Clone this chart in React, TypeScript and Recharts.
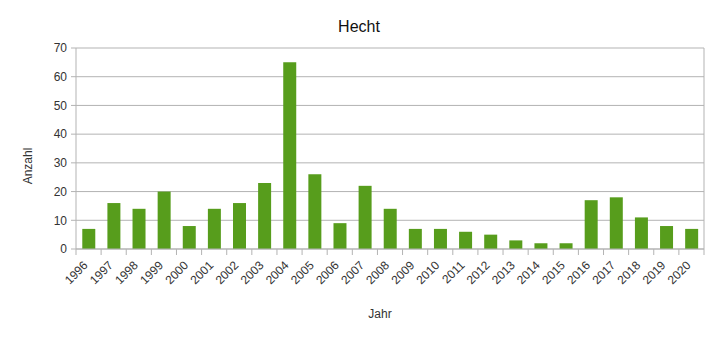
import React from 'react';
import { BarChart, Bar, XAxis, YAxis, CartesianGrid, Label } from 'recharts';

const years = ['1996', '1997', '1998', '1999', '2000', '2001', '2002', '2003', '2004', '2005', '2006', '2007', '2008', '2009', '2010', '2011', '2012', '2013', '2014', '2015', '2016', '2017', '2018', '2019', '2020'];
const counts = [7, 16, 14, 20, 8, 14, 16, 23, 65, 26, 9, 22, 14, 7, 7, 6, 5, 3, 2, 2, 17, 18, 11, 8, 7];
const yTicks = [0, 10, 20, 30, 40, 50, 60, 70];

const data = years.map((year, i) => ({ year, count: counts[i] }));

const FONT = '"Liberation Sans", Arial, sans-serif';
const GRID = '#b3b3b3';
const TEXT = '#333333';

function XTick(props: any) {
  const { x, y, payload, index, visibleTicksCount } = props;
  const off = payload.offset || 0;
  return (
    <g>
      <line x1={x - off} x2={x - off} y1={y} y2={y + 6} stroke={GRID} />
      {index === visibleTicksCount - 1 && (
        <line x1={x + off} x2={x + off} y1={y} y2={y + 6} stroke={GRID} />
      )}
      <text
        transform={`translate(${x},${y + 17}) rotate(-45)`}
        textAnchor="end"
        fontSize={12}
        fill={TEXT}
        fontFamily={FONT}
      >
        {payload.value}
      </text>
    </g>
  );
}

export default function App() {
  return (
    <div style={{ position: 'relative', width: 710, height: 332, fontFamily: FONT }}>
      <div
        style={{
          position: 'absolute',
          left: 0,
          top: 10.5,
          width: 702,
          textAlign: 'center',
          fontSize: 16,
          lineHeight: '16px',
          color: '#111',
        }}
      >
        Hecht
      </div>
      <BarChart
        width={710}
        height={332}
        data={data}
        margin={{ top: 40, right: 14, left: 0, bottom: 0 }}
        barCategoryGap="25%"
      >
        <CartesianGrid
          stroke={GRID}
          horizontal={true}
          vertical={true}
          verticalCoordinatesGenerator={({ offset }: any) => [offset.left + offset.width]}
        />
        <XAxis
          dataKey="year"
          height={91}
          interval={0}
          tickLine={false}
          tickSize={0}
          tickMargin={0}
          axisLine={{ stroke: GRID }}
          tick={<XTick />}
        >
          <Label
            content={() => (
              <text x={372} y={310} textAnchor="middle" fontSize={12} fill={TEXT} fontFamily={FONT}>
                Jahr
              </text>
            )}
          />
        </XAxis>
        <YAxis
          width={68}
          domain={[0, 70]}
          ticks={yTicks}
          interval={0}
          tickSize={5}
          tickMargin={4}
          axisLine={{ stroke: GRID }}
          tickLine={{ stroke: GRID }}
          tick={{ fontSize: 12, fill: TEXT, fontFamily: FONT }}
        >
          <Label
            content={() => (
              <text
                transform="translate(24,158) rotate(-90)"
                textAnchor="middle"
                fontSize={12}
                fill={TEXT}
                fontFamily={FONT}
              >
                Anzahl
              </text>
            )}
          />
        </YAxis>
        <Bar dataKey="count" fill="#579d1c" isAnimationActive={false} />
      </BarChart>
    </div>
  );
}
